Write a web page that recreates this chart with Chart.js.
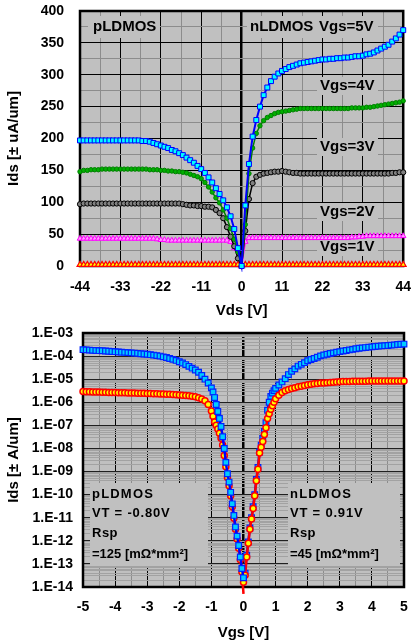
<!DOCTYPE html>
<html><head><meta charset="utf-8">
<script src="https://cdn.jsdelivr.net/npm/chart.js@4.4.1/dist/chart.umd.min.js"></script>
<style>
html,body{margin:0;padding:0;background:#fff;width:411px;height:643px;overflow:hidden}
#c1{position:absolute;left:0;top:0}
#c2{position:absolute;left:0;top:320px}
</style></head><body>
<canvas id="c1" width="411" height="320"></canvas>
<canvas id="c2" width="411" height="323"></canvas>
<script>
// ---------------- Top chart data: Ids [uA/um] vs Vds [V] ----------------
const vds = [-44,-43,-42,-41,-40,-39,-38,-37,-36,-35,-34,-33,-32,-31,-30,-29,-28,-27,-26,-25,
 -24,-23,-22,-21,-20,-19,-18,-17,-16,-15,-14,-13,-12,-11,-10,-9,-8,-7,-6,-5,-4,-3,-2,-1,0,
 1,2,3,4,5,6,7,8,9,10,11,12,13,14,15,16,17,18,19,20,21,22,23,24,25,26,27,28,29,30,
 31,32,33,34,35,36,37,38,39,40,41,42,43,44];
const idsVgs5 = [197,197,197,197,197,197,197,197,197,197,
 197,197,197,197,197,197,197,196,196,195,
 193,191,189,187,185,182,180,177,174,170,
 166,162,157,152,146,139,131,122,113,103,
 92,78,58,28,0,
 95,160,203,229,250,268,280,290,297,302,
 306,309,312,314,316,318,319,320,321,322,
 323,324,324,325,325,326,326,327,327,328,
 329,329,330,332,333,335,338,341,344,347,
 352,357,363,370];
const idsVgs4 = [148,150,150,151,151,151,152,152,152,152,
 152,152,152,152,152,152,152,152,152,151,
 151,151,150,150,149,149,148,148,147,146,
 144,142,140,137,131,124,116,107,99,88,
 75,59,42,22,0,
 65,145,185,208,220,228,233,236,239,241,
 242,243,244,245,246,247,247,247,247,247,
 247,247,247,247,247,247,247,247,247,248,
 248,248,248,249,249,250,251,252,253,254,
 255,256,257,259];
const idsVgs3 = [97,98,98,98,98,98,98,98,98,98,
 98,98,98,98,98,98,98,98,98,98,
 98,98,98,98,98,98,98,98,97,96,
 95,95,94,94,93,93,92,88,83,75,
 61,46,31,12,0,
 55,105,130,140,143,145,146,147,148,148,
 149,148,147,146,146,145,145,145,145,145,
 145,145,145,145,145,145,145,145,145,145,
 145,145,145,145,145,145,145,145,145,145,
 146,146,147,147];
const idsVgs2 = [43,43,43,43,43,43,43,43,43,43,
 43,43,43,43,43,43,43,43,43,43,
 43,42,41,41,40,40,40,40,40,40,
 40,40,40,40,40,40,40,40,40,40,
 40,38,28,14,0,
 38,44,44,44,44,44,44,44,44,44,
 44,44,44,44,44,44,44,44,44,44,
 44,44,44,44,44,44,44,44,44,45,
 45,46,46,47,47,47,47,47,47,47,
 47,47,47,47];
const idsVgs1 = [2,2,2,2,2,2,2,2,2,2,
 2,2,2,2,2,2,2,2,2,2,
 2,2,2,2,2,2,2,2,2,2,
 2,2,2,2,2,2,2,2,2,2,
 2,2,2,2,0,
 2,2,2,2,2,2,2,2,2,2,
 2,2,2,2,2,2,2,2,2,2,
 2,2,2,2,2,2,2,2,2,2,
 2,2,2,2,2,2,2,2,2,2,
 2,2,2,2];
const vdsTickLabels = ['-44','-33','-22','-11','0','11','22','33','44'];
const idsTickLabels = ['0','50','100','150','200','250','300','350','400'];

// ---------------- Bottom chart data: Ids [A/um] vs Vgs [V] ----------------
const vgsP = [-5.0,-4.9,-4.8,-4.7,-4.6,-4.5,-4.4,-4.3,-4.2,-4.1,-4.0,-3.9,-3.8,-3.7,-3.6,-3.5,-3.4,-3.3,-3.2,-3.1,
 -3.0,-2.9,-2.8,-2.7,-2.6,-2.5,-2.4,-2.3,-2.2,-2.1,-2.0,-1.9,-1.8,-1.7,-1.6,-1.5,-1.4,-1.3,-1.2,-1.1,-1.0,
 -0.95,-0.9,-0.85,-0.8,-0.75,-0.7,-0.65,-0.6,-0.55,-0.5,-0.45,-0.4,-0.35,-0.3,-0.25,-0.2,-0.15,-0.1,-0.05,0];
const idsPHigh = [1.9e-4,1.86e-4,1.82e-4,1.78e-4,1.74e-4,1.72e-4,1.70e-4,1.66e-4,1.62e-4,1.58e-4,
 1.55e-4,1.51e-4,1.48e-4,1.45e-4,1.41e-4,1.38e-4,1.35e-4,1.32e-4,1.26e-4,1.23e-4,
 1.20e-4,1.15e-4,1.10e-4,1.05e-4,1.0e-4,9.3e-5,8.7e-5,7.9e-5,7.2e-5,6.5e-5,
 5.7e-5,5.0e-5,4.3e-5,3.6e-5,3.0e-5,2.5e-5,2.0e-5,1.45e-5,1.0e-5,6.8e-6,4.2e-6,
 2.8e-6,1.6e-6,8e-7,4e-7,2e-7,8.9e-8,3.2e-8,1e-8,2.5e-9,8e-10,3.5e-10,1.26e-10,4e-11,1.26e-11,
 4e-12,1.6e-12,6.3e-13,2e-13,6.3e-14,2.5e-14];
const idsPLow = [2.9e-6,2.88e-6,2.85e-6,2.82e-6,2.8e-6,2.77e-6,2.74e-6,2.71e-6,2.68e-6,2.65e-6,
 2.62e-6,2.6e-6,2.58e-6,2.56e-6,2.54e-6,2.52e-6,2.5e-6,2.48e-6,2.46e-6,2.43e-6,
 2.4e-6,2.38e-6,2.35e-6,2.32e-6,2.3e-6,2.27e-6,2.24e-6,2.2e-6,2.16e-6,2.12e-6,
 2.07e-6,2.02e-6,1.96e-6,1.9e-6,1.82e-6,1.72e-6,1.58e-6,1.4e-6,1.15e-6,8e-7,4.2e-7,
 2.5e-7,1.4e-7,1e-7,7e-8,4.5e-8,2.8e-8,1.4e-8,5e-9,1.6e-9,5.5e-10,2.4e-10,9e-11,3e-11,9.5e-12,
 3.2e-12,1.2e-12,4.8e-13,1.5e-13,4.5e-14,5e-15];
const vgsN = [0,0.05,0.1,0.15,0.2,0.25,0.3,0.35,0.4,0.45,0.5,0.55,0.6,0.65,0.7,0.75,0.8,0.85,0.9,0.95,
 1.0,1.1,1.2,1.3,1.4,1.5,1.6,1.7,1.8,1.9,2.0,2.1,2.2,2.3,2.4,2.5,2.6,2.7,2.8,2.9,
 3.0,3.1,3.2,3.3,3.4,3.5,3.6,3.7,3.8,3.9,4.0,4.1,4.2,4.3,4.4,4.5,4.6,4.7,4.8,4.9,5.0];
const idsNHigh = [2e-14,4e-14,2.4e-13,9e-13,3.6e-12,1e-11,3e-11,1e-10,4.5e-10,1.5e-9,
 7e-9,1.4e-8,2.7e-8,5.5e-8,1.3e-7,4.5e-7,1e-6,1.8e-6,2.5e-6,3.2e-6,
 4e-6,5.6e-6,7.6e-6,1.05e-5,1.58e-5,2.2e-5,2.8e-5,3.7e-5,4.4e-5,5.2e-5,
 6.3e-5,7.1e-5,7.9e-5,8.9e-5,1.02e-4,1.12e-4,1.2e-4,1.29e-4,1.38e-4,1.48e-4,
 1.55e-4,1.66e-4,1.74e-4,1.86e-4,1.95e-4,2.09e-4,2.19e-4,2.26e-4,2.34e-4,2.43e-4,
 2.51e-4,2.6e-4,2.69e-4,2.75e-4,2.82e-4,2.88e-4,2.99e-4,3.05e-4,3.16e-4,3.24e-4,3.31e-4];
const idsNLow = [1.6e-14,3.2e-14,2e-13,7.9e-13,3.2e-12,8.9e-12,2.5e-11,8.9e-11,4e-10,1.26e-9,
 6.3e-9,1.12e-8,2e-8,4e-8,7.9e-8,2e-7,3.2e-7,5e-7,7.1e-7,1e-6,
 1.41e-6,2e-6,2.63e-6,3.16e-6,3.55e-6,3.98e-6,4.27e-6,4.68e-6,5e-6,5.37e-6,
 5.75e-6,6e-6,6.3e-6,6.45e-6,6.76e-6,6.9e-6,7.08e-6,7.24e-6,7.4e-6,7.6e-6,
 7.76e-6,7.9e-6,7.95e-6,8e-6,8.05e-6,8.1e-6,8.15e-6,8.2e-6,8.2e-6,8.25e-6,
 8.25e-6,8.3e-6,8.3e-6,8.3e-6,8.3e-6,8.3e-6,8.3e-6,8.3e-6,8.3e-6,8.3e-6,8.3e-6];
const logExponents = [-14,-13,-12,-11,-10,-9,-8,-7,-6,-5,-4,-3];
const logTickLabels = ['1.E-14','1.E-13','1.E-12','1.E-11','1.E-10','1.E-09','1.E-08','1.E-07','1.E-06','1.E-05','1.E-04','1.E-03'];
const vgsTickLabels = ['-5','-4','-3','-2','-1','0','1','2','3','4','5'];

// ---------------- helpers ----------------
const FONT = '"Liberation Sans", Arial, Helvetica, sans-serif';
Chart.defaults.font.family = FONT;
Chart.defaults.color = '#000';
const pts = (xs, ys) => xs.map((x, i) => ({x: x, y: ys[i]}));
const near = (a, b) => Math.abs(a - b) < 1e-6;
const CLEAR = 'rgba(0,0,0,0)';

function decorPlugin(id, boxes, texts, font) {
  return {
    id: id,
    beforeDraw(chart) {
      const a = chart.chartArea, ctx = chart.ctx;
      ctx.save();
      ctx.fillStyle = '#C0C0C0';
      ctx.fillRect(a.left, a.top, a.right - a.left, a.bottom - a.top);
      ctx.restore();
    },
    beforeDatasetsDraw(chart) {
      const a = chart.chartArea, ctx = chart.ctx;
      ctx.save();
      ctx.fillStyle = '#C0C0C0';
      boxes.forEach(b => ctx.fillRect(b[0], b[1], b[2], b[3]));
      ctx.fillStyle = '#000';
      ctx.font = font;
      ctx.textBaseline = 'middle';
      ctx.textAlign = 'left';
      texts.forEach(t => {
        ctx.letterSpacing = (t[3] || 0) + 'px';
        ctx.fillText(t[0], t[1], t[2]);
      });
      ctx.letterSpacing = '0px';
      ctx.strokeStyle = '#000';
      ctx.lineWidth = 2.5;
      ctx.strokeRect(a.left, a.top, a.right - a.left, a.bottom - a.top);
      ctx.restore();
    }
  };
}

// ---------------- Top chart ----------------
const topDatasets = [
  {label:'Vgs=5V', data: pts(vds, idsVgs5), borderColor:'#0000FF', borderWidth:2, pointStyle:'rect', pointRadius:3.5, pointBackgroundColor:'#00FFFF', pointBorderColor:'#0000FF', pointBorderWidth:1, clip: 6},
  {label:'Vgs=4V', data: pts(vds, idsVgs4), borderColor:'#008000', borderWidth:1.5, pointStyle:'circle', pointRadius:2.2, pointBackgroundColor:'#00B000', pointBorderColor:'#008000', pointBorderWidth:1, clip: 6},
  {label:'Vgs=3V', data: pts(vds, idsVgs3), borderColor:'#000000', borderWidth:1.5, pointStyle:'circle', pointRadius:2.6, pointBackgroundColor:'#808080', pointBorderColor:'#000000', pointBorderWidth:1, clip: 6},
  {label:'Vgs=2V', data: pts(vds, idsVgs2), borderColor:'#FF00FF', borderWidth:1.5, pointStyle:'triangle', pointRadius:3.2, pointBackgroundColor:'#FF99FF', pointBorderColor:'#FF00FF', pointBorderWidth:1, clip: 6},
  {label:'Vgs=1V', data: pts(vds, idsVgs1), borderColor:'#FF0000', borderWidth:1.5, pointStyle:'triangle', pointRadius:3.4, pointBackgroundColor:'#FFFF00', pointBorderColor:'#FF0000', pointBorderWidth:1.2, clip: 6}
];

const topBoxes = [[88,16,72,22],[247,16,131,22],[317,77,61,18],[317,138,61,18],[317,203,61,18],[317,238,61,18]];
const topTexts = [['pLDMOS',93,27],['nLDMOS',250,27],['Vgs=5V',319,27],['Vgs=4V',320,86],['Vgs=3V',320,147],['Vgs=2V',320,212],['Vgs=1V',320,247]];

new Chart(document.getElementById('c1'), {
  type: 'line',
  data: { datasets: topDatasets },
  options: {
    responsive: false, animation: false, devicePixelRatio: 1,
    layout: { padding: { top: 11, right: 7, left: 0, bottom: 0 } },
    plugins: { legend: { display: false }, tooltip: { enabled: false } },
    elements: { line: { tension: 0 } },
    scales: {
      x: {
        type: 'linear', min: -44, max: 44,
        afterFit: s => { s.height = 54; },
        ticks: {
          stepSize: 5.5, autoSkip: false, maxRotation: 0, minRotation: 0, padding: 0,
          font: { size: 14, weight: 'bold' }, color: '#000',
          callback: v => { const i = vdsTickLabels.indexOf(String(Math.round(v))); return (near(v % 11, 0) && i >= 0) ? vdsTickLabels[i] : ''; }
        },
        grid: {
          drawTicks: true, tickLength: 13, tickColor: CLEAR,
          color: c => (c.tick && near(c.tick.value % 11, 0)) ? '#000000' : '#8C8C8C',
          lineWidth: c => (c.tick && near(c.tick.value, 0)) ? 2.5 : 1
        },
        border: { display: false },
        title: { display: true, text: 'Vds [V]', font: { size: 15, weight: 'bold' }, color: '#000', padding: { top: 0, bottom: 0 } }
      },
      y: {
        type: 'linear', min: 0, max: 400,
        afterFit: s => { s.width = 80; },
        ticks: {
          stepSize: 25, autoSkip: false, padding: 0,
          font: { size: 14, weight: 'bold' }, color: '#000',
          callback: v => { const i = idsTickLabels.indexOf(String(Math.round(v))); return (near(v % 50, 0) && i >= 0) ? idsTickLabels[i] : ''; }
        },
        grid: {
          drawTicks: true, tickLength: 16, tickColor: CLEAR,
          color: c => (c.tick && near(c.tick.value % 50, 0)) ? '#000000' : '#8C8C8C',
          lineWidth: 1
        },
        border: { display: false },
        title: { display: true, text: 'Ids [± uA/um]', font: { size: 15, weight: 'bold' }, color: '#000', padding: { top: 5, bottom: 0 } }
      }
    }
  },
  plugins: [decorPlugin('decorTop', topBoxes, topTexts, 'bold 15px ' + FONT)]
});

// ---------------- Bottom chart ----------------
const isDecade = v => { const l = Math.log10(v); return Math.abs(l - Math.round(l)) < 1e-6; };
const botDatasets = [
  {label:'pLDMOS high', data: pts(vgsP, idsPHigh), borderColor:'#0000FF', borderWidth:2.5, pointStyle:'rect', pointRadius:4, pointBackgroundColor:'#00CCFF', pointBorderColor:'#0022FF', pointBorderWidth:1.2, clip: 7},
  {label:'nLDMOS low', data: pts(vgsN, idsNLow), borderColor:'#FF0000', borderWidth:2.5, pointStyle:'circle', pointRadius:3, pointBackgroundColor:'#FFFF00', pointBorderColor:'#FF0000', pointBorderWidth:1.5, clip: 7},
  {label:'pLDMOS low', data: pts(vgsP, idsPLow), borderColor:'#FF0000', borderWidth:2.5, pointStyle:'circle', pointRadius:3, pointBackgroundColor:'#FFFF00', pointBorderColor:'#FF0000', pointBorderWidth:1.5, clip: 7},
  {label:'nLDMOS high', data: pts(vgsN, idsNHigh), borderColor:'#0000FF', borderWidth:2.5, pointStyle:'rect', pointRadius:4, pointBackgroundColor:'#00CCFF', pointBorderColor:'#0022FF', pointBorderWidth:1.2, clip: 7}
];

const botBoxes = [[90,163,118,83],[288,163,112,83]];
const botTexts = [
  ['pLDMOS',92,174,1.2],['VT = -0.80V',92,193,0.8],['Rsp',92,213,0.5],['=125 [mΩ*mm²]',92,234,0],
  ['nLDMOS',290,174,1.2],['VT = 0.91V',290,193,0.8],['Rsp',290,213,0.5],['=45 [mΩ*mm²]',290,234,0]
];

new Chart(document.getElementById('c2'), {
  type: 'line',
  data: { datasets: botDatasets },
  options: {
    responsive: false, animation: false, devicePixelRatio: 1,
    layout: { padding: { top: 13, right: 7, left: 0, bottom: 0 } },
    plugins: { legend: { display: false }, tooltip: { enabled: false } },
    elements: { line: { tension: 0 } },
    scales: {
      x: {
        type: 'linear', min: -5, max: 5,
        afterFit: s => { s.height = 56; },
        ticks: {
          stepSize: 0.5, autoSkip: false, maxRotation: 0, minRotation: 0, padding: 0,
          font: { size: 14, weight: 'bold' }, color: '#000',
          callback: v => { const i = vgsTickLabels.indexOf(String(Math.round(v))); return (near(v, Math.round(v)) && i >= 0) ? vgsTickLabels[i] : ''; }
        },
        grid: {
          drawTicks: true, tickLength: 12, tickColor: CLEAR,
          color: c => (c.tick && near(c.tick.value, Math.round(c.tick.value))) ? '#000000' : '#8C8C8C',
          lineWidth: c => (c.tick && near(c.tick.value, 0)) ? 2.5 : 1
        },
        border: { display: false },
        title: { display: true, text: 'Vgs [V]', font: { size: 15, weight: 'bold' }, color: '#000', padding: { top: 0, bottom: 1 } }
      },
      y: {
        type: 'logarithmic', min: 1e-14, max: 1e-3,
        afterFit: s => { s.width = 83; },
        afterBuildTicks: s => {
          const t = [];
          logExponents.forEach(e => {
            for (let m = 1; m <= 9; m++) {
              if (e === logExponents[logExponents.length - 1] && m > 1) break;
              t.push({ value: m * Math.pow(10, e) });
            }
          });
          s.ticks = t;
        },
        ticks: {
          autoSkip: false, padding: 0,
          font: { size: 14, weight: 'bold' }, color: '#000',
          callback: v => {
            if (!isDecade(v)) return '';
            const i = logExponents.indexOf(Math.round(Math.log10(v)));
            return i >= 0 ? logTickLabels[i] : '';
          }
        },
        grid: {
          drawTicks: true, tickLength: 10, tickColor: CLEAR,
          color: c => (c.tick && isDecade(c.tick.value)) ? '#202020' : '#A2A2A2',
          lineWidth: 1
        },
        border: { display: false },
        title: { display: true, text: 'Ids [± A/um]', font: { size: 15, weight: 'bold' }, color: '#000', padding: { top: 5, bottom: 0 } }
      }
    }
  },
  plugins: [decorPlugin('decorBot', botBoxes, botTexts, 'bold 13px ' + FONT)]
});
</script>
</body></html>
